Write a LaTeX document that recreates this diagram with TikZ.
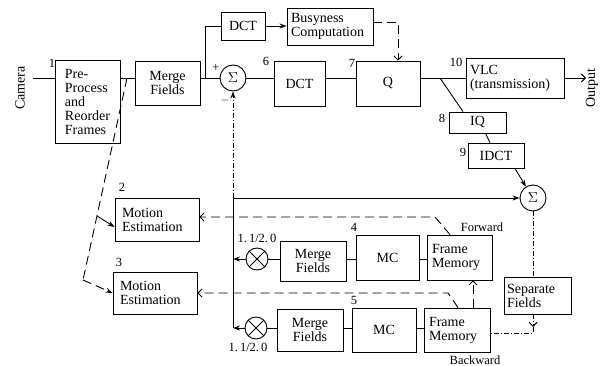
\documentclass[tikz,border=0pt]{standalone}
\usepackage{fontspec}
\setmainfont{Liberation Serif}
\usetikzlibrary{arrows.meta,calc}
\tikzset{
  blk/.style={draw, line width=0.9pt, inner sep=0pt, font=\fontsize{14}{14}\selectfont},
  sumc/.style={draw, circle, line width=0.9pt, inner sep=0pt, minimum size=26pt, font=\fontsize{15}{15}\selectfont},
  mulc/.style={draw, circle, line width=0.9pt, inner sep=0pt, minimum size=22pt},
  lbl/.style={inner sep=0pt, font=\fontsize{12.5}{13}\selectfont},
  wire/.style={line width=0.9pt},
  dsh/.style={line width=0.9pt, dash pattern=on 9pt off 5pt},
  dd/.style={line width=0.9pt, dash pattern=on 5pt off 2pt on 1pt off 2pt},
  tip/.style={-{Stealth[length=7pt,width=5pt]}},
  otip/.style={-{Straight Barb[length=4pt,width=8pt]}}
}
\begin{document}
\begin{tikzpicture}[x=1pt,y=-1pt]
\useasboundingbox (0,0) rectangle (600,366);
% boxes
\node[blk, minimum width=65pt, minimum height=83pt, align=left] (pre) at (87.5,101.5) {Pre-\\Process\\and\\Reorder\\Frames};
\node[blk, minimum width=65pt, minimum height=44pt, align=center] (mf0) at (167.5,83) {Merge\\Fields};
\node[sumc] (sum1) at (233,78) {$\Sigma$};
\node[blk, minimum width=51pt, minimum height=45pt] (dct) at (299.5,83.5) {DCT};
\node[blk, minimum width=64pt, minimum height=45pt] (q) at (388,83.5) {Q};
\node[blk, minimum width=98pt, minimum height=40pt, align=left, text width=90pt] (vlc) at (515,78) {VLC\\(transmission)};
\node[blk, minimum width=57pt, minimum height=21pt] (iq) at (477.5,122.5) {IQ};
\node[blk, minimum width=56pt, minimum height=25pt] (idct) at (496,155.5) {IDCT};
\node[sumc] (sum2) at (533,198) {$\Sigma$};
\node[blk, minimum width=67pt, minimum height=37pt, align=left, text width=61pt] (sf) at (537.5,295.5) {Separate\\Fields};
\node[blk, minimum width=66pt, minimum height=44pt, align=left, text width=56pt] (fmb) at (457,330) {Frame\\Memory};
\node[blk, minimum width=65pt, minimum height=45pt, align=left, text width=55pt] (fmf) at (459.5,257.5) {Frame\\Memory};
\node[blk, minimum width=63pt, minimum height=45pt] (mcf) at (387.5,257.5) {MC};
\node[blk, minimum width=66pt, minimum height=40pt, align=center] (mff) at (313,261) {Merge\\Fields};
\node[mulc] (mulf) at (257,259) {};
\node[blk, minimum width=64pt, minimum height=44pt] (mcb) at (384,330) {MC};
\node[blk, minimum width=66pt, minimum height=42pt, align=center] (mfb) at (310,330) {Merge\\Fields};
\node[mulc] (mulb) at (256,328) {};
\node[blk, minimum width=84pt, minimum height=43pt, align=left, text width=70pt] (me2) at (157,219.5) {Motion\\Estimation};
\node[blk, minimum width=84pt, minimum height=42pt, align=left, text width=70pt] (me3) at (155,293) {Motion\\Estimation};
\node[blk, minimum width=44pt, minimum height=28pt] (dct2) at (243,26) {DCT};
\node[blk, minimum width=86pt, minimum height=37pt, align=left, text width=78pt] (bc) at (330,26.5) {Busyness\\Computation};
% crosses in multipliers
\draw[wire] (mulf.45) -- (mulf.225) (mulf.135) -- (mulf.315);
\draw[wire] (mulb.45) -- (mulb.225) (mulb.135) -- (mulb.315);
% text labels
\node[blk, draw=none, rotate=90] (cam) at (20,88) {Camera};
\node[blk, draw=none, rotate=90] (outl) at (592,88) {Output};
\node[lbl] (l1) at (52,63) {1};
\node[lbl] (l2) at (122,187) {2};
\node[lbl] (l3) at (119,262) {3};
\node[lbl] (l4) at (354,227) {4};
\node[lbl] (l5) at (354,300) {5};
\node[lbl] (l6) at (266,61) {6};
\node[lbl] (l7) at (352,63) {7};
\node[lbl] (l8) at (442,118) {8};
\node[lbl] (l9) at (463,152) {9};
\node[lbl] (l10) at (456,62) {10};
\node[lbl] (gf) at (257,238) {1.\,1/2.\,0};
\node[lbl] (gb) at (248,347) {1.\,1/2.\,0};
\node[lbl] (fw) at (482,227) {Forward};
\node[lbl] (bw) at (475,360) {Backward};
\node[lbl] (plus) at (216,68) {+};
\node[lbl] (minus) at (225,101) {$-$};
% coordinates
\coordinate (c0) at (33,78);
\coordinate (br) at (205,78);
\coordinate (bq) at (398,22);
\coordinate (b2) at (440,78);
\coordinate (oute) at (586,78);
\coordinate (vm) at (233,198);
\coordinate (vb) at (233,328);
\coordinate (sfc) at (533,327);
\coordinate (sfd) at (533,333);
\coordinate (kf) at (435,217);
\coordinate (kb) at (448,293);
\coordinate (p0) at (127,78);
\coordinate (p1) at (97,216);
\coordinate (p2) at (83,280);
\coordinate (x473) at (473,0);
% main path
\draw[wire] (c0) -- (c0 -| pre.west);
\draw[wire] (pre.east |- c0) -- (mf0.west |- c0);
\draw[wire] (mf0.east |- c0) -- (sum1.west);
\draw[wire] (br) |- (dct2.west);
\draw[wire, tip] (dct2.east) -- (dct2.east -| bc.west);
\draw[dsh, otip] (bc.east |- bq) -- (bq) -- (bq |- q.north);
\draw[wire] (sum1.east) -- (sum1.east -| dct.west);
\draw[wire] (dct.east |- c0) -- (q.west |- c0);
\draw[wire] (q.east |- c0) -- (vlc.west |- c0);
\draw[wire, otip] (vlc.east |- c0) -- (oute);
\draw[wire] (b2) -- ([xshift=-14.5pt]iq.north);
\draw[wire] ([xshift=8pt]iq.south) -- ([xshift=-6pt]idct.north);
\draw[wire, tip] ([xshift=19pt]idct.south) -- (sum2.122);
% feedback
\draw[wire] (vb) -- (vm);
\draw[dd, tip] (vm) -- (sum1.south);
\draw[wire, tip] (vm) -- (sum2.west);
\draw[dd] (sum2.south) -- (sum2.south |- sf.north);
\draw[dd, otip] (sum2.south |- sf.south) -- (sfc);
\draw[dd] (sfc) -- (sfd) -- (sfd -| fmb.east);
\draw[dsh, otip] (fmb.north -| x473) -- (fmf.south -| x473);
% forward row
\draw[wire, tip] (mulf.west) -- (mulf.west -| vm);
\draw[wire] (mulf.east) -- (mulf.east -| mff.west);
\draw[wire] (mff.east |- mulf) -- (mcf.west |- mulf);
\draw[wire] (mcf.east |- mulf) -- (fmf.west |- mulf);
% backward row
\draw[wire, tip] (mulb.west) -- (mulb.west -| vb);
\draw[wire] (mulb.east) -- (mulb.east -| mfb.west);
\draw[wire] (mfb.east |- mulb) -- (mcb.west |- mulb);
\draw[wire] (mcb.east |- mulb) -- (fmb.west |- mulb);
% motion vectors
\draw[dsh, otip] ([xshift=-9.5pt]fmf.north) -- (kf) -- (kf -| me2.east);
\draw[dsh, otip] ([xshift=1pt]fmb.north) -- (kb) -- (kb -| me3.east);
\draw[dsh] (p0) -- (p2);
\draw[wire, tip] (p1) -- ($(me2.west)+(0,7.5)$);
\draw[dsh, tip] (p2) -- (me3.west);
\end{tikzpicture}
\end{document}
